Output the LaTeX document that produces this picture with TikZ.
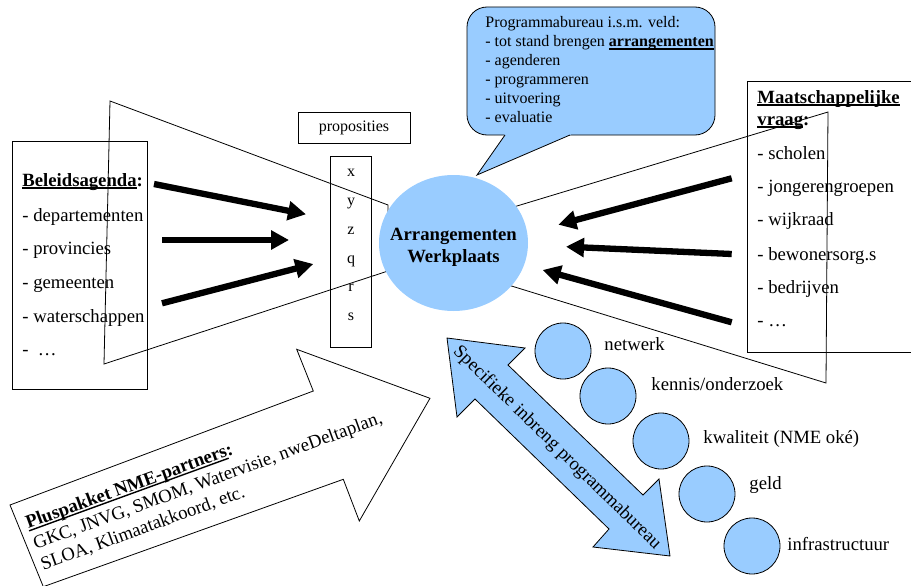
\documentclass[tikz,border=0pt]{standalone}
\usepackage{fontspec}
\setmainfont{Liberation Serif}
\usetikzlibrary{arrows.meta,shapes.geometric}
\definecolor{lblue}{HTML}{99CCFF}
\newcommand\ulx[1]{\leavevmode\setbox0=\hbox{#1}\rlap{\rule[-2.8pt]{\wd0}{1.4pt}}\box0}
\newcommand\fbig{\fontsize{18.7}{22}\selectfont}
\newcommand\fsmall{\fontsize{16}{19}\selectfont}
\begin{document}
\begin{tikzpicture}[x=1pt,y=-1pt,line width=0.8pt,
  txt/.style={inner sep=0pt,anchor=base west,font=\fbig},
  stxt/.style={inner sep=0pt,anchor=base west,font=\fsmall},
  ctxt/.style={inner sep=0pt,anchor=base,font=\fsmall},
  btxt/.style={inner sep=0pt,anchor=base,font=\fbig\bfseries},
  boxx/.style={draw,inner sep=0pt},
  fatarrow/.style={line width=6.3pt,-{Triangle[length=18pt,width=18.5pt]}},
  ball/.style={circle,draw,fill=lblue,minimum size=56pt,inner sep=0pt},
  ptxt/.style={inner sep=0pt,anchor=base west,font=\fbig,rotate=20}]
\useasboundingbox (0,0) rectangle (911,586);

% funnels
\draw (110,101) -- (388,205) -- (388,271) -- (104,364) -- cycle;
\draw (828,112) -- (505,209.6) -- (505,284) -- (826,383) -- cycle;

% boxes
\node[boxx,minimum width=135pt,minimum height=248pt] (lbox) at (79.5,265) {};
\node[boxx,minimum width=166pt,minimum height=271pt] (rbox) at (830,216.5) {};
\node[boxx,minimum width=112pt,minimum height=31pt,font=\fsmall] (prop) at (354,127.5) {proposities};
\node[boxx,minimum width=41pt,minimum height=191pt] (xyz) at (350.5,251.5) {};

% central ellipse
\node[ellipse,fill=lblue,minimum width=149pt,minimum height=136pt,inner sep=0pt] (ws) at (453.5,243) {};
\node[btxt] (ws1) at (453.5,240) {Arrangementen};
\node[btxt] (ws2) at (453.5,262) {Werkplaats};

% speech bubble
\node[draw,fill=lblue,rounded corners=20pt,minimum width=248pt,minimum height=128pt,inner sep=0pt] (bub) at (591,71) {};
\fill[lblue] (505,135) -- (477,175) -- (570,135) -- (572,133) -- (503,133) -- cycle;
\draw[line join=miter] (505,135) -- (477,175) -- (570,135);
\node[stxt] (b1) at (485,28) {Programmabureau i.s.m. veld:};
\node[stxt] (b2) at (485,47) {- tot stand brengen \ulx{\textbf{arrangementen}}};
\node[stxt] (b3) at (485,66) {- agenderen};
\node[stxt] (b4) at (485,84.5) {- programmeren};
\node[stxt] (b5) at (485,103) {- uitvoering};
\node[stxt] (b6) at (485,122) {- evaluatie};

% left list
\node[txt] (l0) at (22,186) {\ulx{\textbf{Beleidsagenda}}\textbf{:}};
\node[txt] (l1) at (22,221) {- departementen};
\node[txt] (l2) at (22,254.5) {- provincies};
\node[txt] (l3) at (22,288) {- gemeenten};
\node[txt] (l4) at (22,322) {- waterschappen};
\node[txt] (l5) at (22,355) {- \ \dots};

% right list
\node[txt] (r0) at (757,103) {\ulx{\textbf{Maatschappelijke}}};
\node[txt] (r0b) at (757,125) {\ulx{\textbf{vraag}}\textbf{:}};
\node[txt] (r1) at (757,159) {- scholen};
\node[txt] (r2) at (757,192.7) {- jongerengroepen};
\node[txt] (r3) at (757,225.7) {- wijkraad};
\node[txt] (r4) at (757,260) {- bewonersorg.s};
\node[txt] (r5) at (757,293.3) {- bedrijven};
\node[txt] (r6) at (757,326.7) {- \dots};

% propositions letters
\node[ctxt] (px) at (351,176) {x};
\node[ctxt] (py) at (351,205.5) {y};
\node[ctxt] (pz) at (351,234) {z};
\node[ctxt] (pq) at (351,263) {q};
\node[ctxt] (pr) at (351,291.7) {r};
\node[ctxt] (ps) at (351,320.7) {s};

% fat arrows
\coordinate (la1) at (154,184);   \coordinate (la1t) at (306,214.3);
\coordinate (la2) at (162,240);   \coordinate (la2t) at (289,240);
\coordinate (la3) at (162,303.3); \coordinate (la3t) at (313.3,264);
\coordinate (ra1) at (731.7,178.3); \coordinate (ra1t) at (558.3,224.7);
\coordinate (ra2) at (731.7,254);   \coordinate (ra2t) at (566,246.7);
\coordinate (ra3) at (731.7,322.3); \coordinate (ra3t) at (542.7,270);
\draw[fatarrow] (la1) -- (la1t);
\draw[fatarrow] (la2) -- (la2t);
\draw[fatarrow] (la3) -- (la3t);
\draw[fatarrow] (ra1) -- (ra1t);
\draw[fatarrow] (ra2) -- (ra2t);
\draw[fatarrow] (ra3) -- (ra3t);

% big white block arrow
\draw[fill=white,line join=miter] (10,505) -- (313.3,391) -- (296.7,349.3) -- (430,398.3)
  -- (359.3,521) -- (343.3,479.3) -- (43.3,586.7) -- cycle;
\node[ptxt] (p1) at (28,529) {\ulx{\textbf{Pluspakket NME-partners}}\textbf{:}};
\node[ptxt] (p2) at (35.5,549.7) {GKC, JNVG, SMOM, Watervisie, nweDeltaplan,};
\node[ptxt] (p3) at (43,570.5) {SLOA, Klimaatakkoord, etc.};

% blue double arrow
\draw[fill=lblue,line join=miter] (447,338) -- (525,348) -- (508,365) -- (643,495) -- (659,479)
  -- (670,556) -- (593,547) -- (609,529) -- (475,399) -- (457,417) -- cycle;
\node[inner sep=0pt,font=\fbig,rotate=-44.3] (spec) at (557,448) {Specifieke inbreng programmabureau};

% balls
\node[ball] (c1) at (563,351) {};
\node[ball] (c2) at (608,396) {};
\node[ball] (c3) at (661,441) {};
\node[ball] (c4) at (707,494) {};
\node[ball] (c5) at (752,546) {};
\node[txt] (t1) at (604,350.7) {netwerk};
\node[txt] (t2) at (651,390.7) {kennis/onderzoek};
\node[txt] (t3) at (703,443.3) {kwaliteit (NME oké)};
\node[txt] (t4) at (749,489) {geld};
\node[txt] (t5) at (787,550) {infrastructuur};
\end{tikzpicture}
\end{document}
